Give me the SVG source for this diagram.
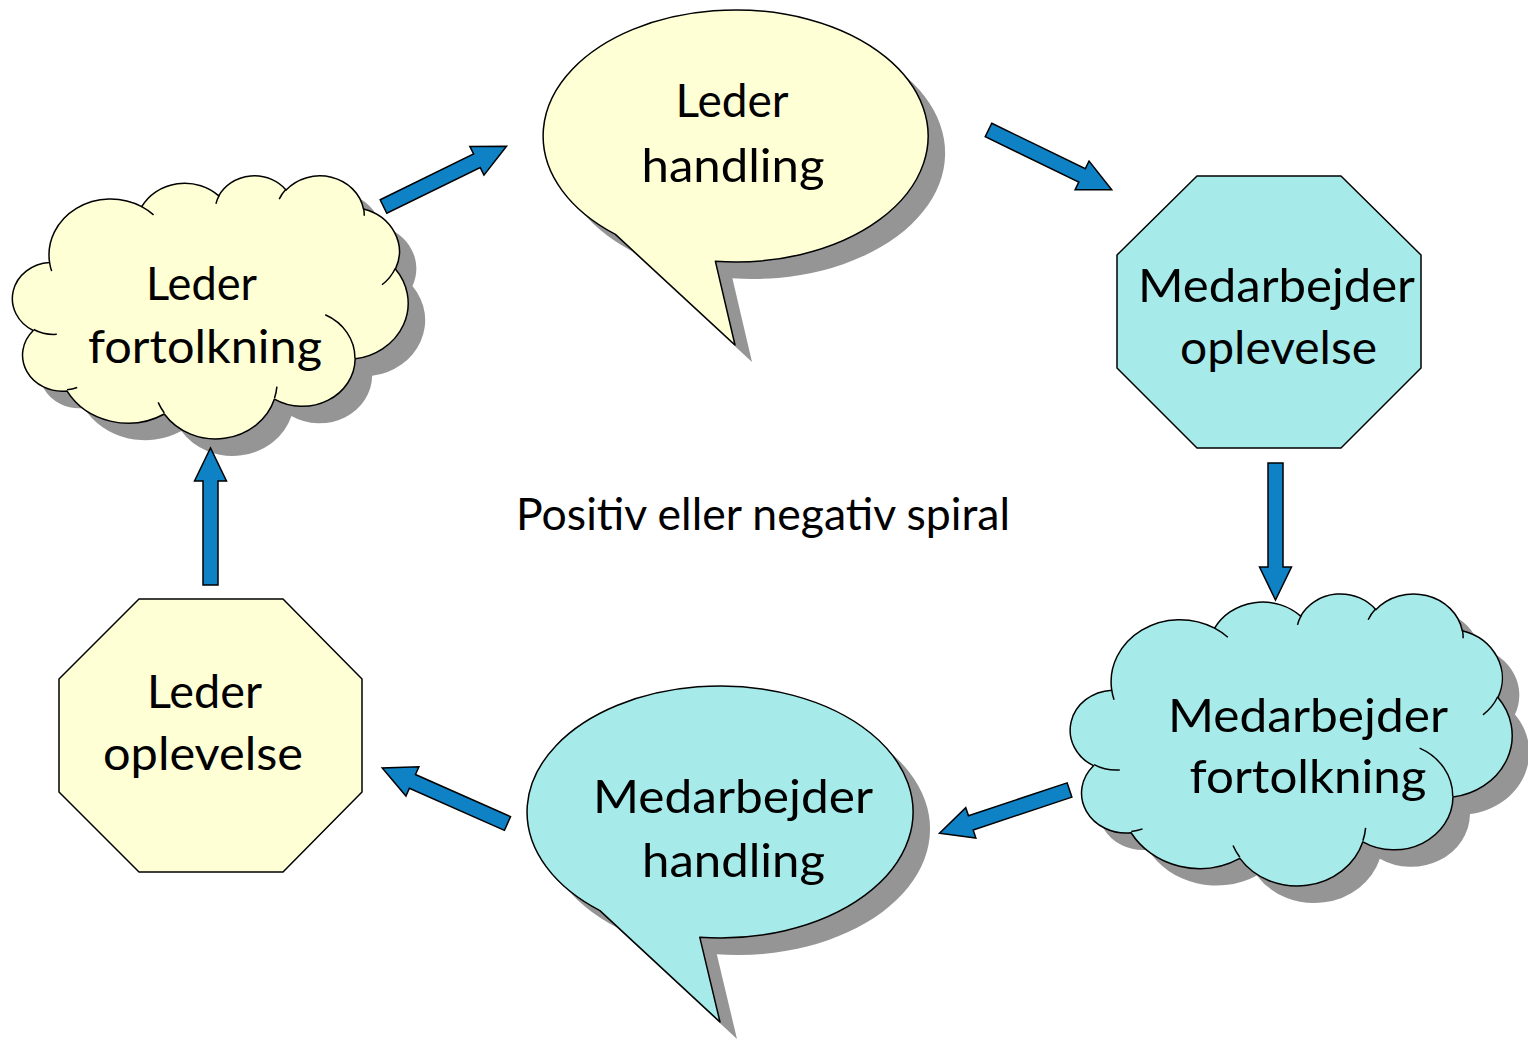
<svg xmlns="http://www.w3.org/2000/svg" xmlns:xlink="http://www.w3.org/1999/xlink" width="1528" height="1040" viewBox="0 0 1528 1040">
<style>
.ln { stroke:#000; stroke-width:1.5; stroke-linejoin:round; }
.y { fill:#FFFFD6; }
.c { fill:#A6EAE9; }
.sh { fill:#959595; stroke:none; }
.nf { fill:none; }
.t { font-family:Lato, "Open Sans", sans-serif; font-size:47px; fill:#000; text-anchor:middle; }
.arr { fill:#0F82C5; stroke:#000; stroke-width:1.5; stroke-linejoin:miter; }
</style>
<defs>
<path id="cloud" vector-effect="non-scaling-stroke" d="M3900,14370 A6753,9190 0 0 1 14005,5202 A5333,7267 0 0 1 22456,3430 A4365,5945 0 0 1 29833,2478 A4857,6595 0 0 1 38318,5573 A5333,7273 0 0 1 41819,15457 A6775,9220 0 0 1 37404,30198 A5785,7867 0 0 1 28556,36809 A6752,9215 0 0 1 16481,39262 A7720,10543 0 0 1 5805,35467 A4360,5918 0 0 1 2113,25545 A4345,5945 0 0 1 3900,14370 Z"/>
<path id="creases" vector-effect="non-scaling-stroke" fill="none" d="M4693,26177 A4345,5945 0 0 1 2160,25380 M6928,34899 A4360,5918 0 0 1 5820,35281 M16478,39090 A6752,9215 0 0 1 15809,37348 M28827,34751 A6752,9215 0 0 1 28560,36660 M34129,22954 A5785,7867 0 0 1 37381,30090 M41798,15354 A5333,7273 0 0 1 40350,18030 M38324,5426 A4857,6595 0 0 1 38401,6690 M29078,3952 A4857,6595 0 0 1 29820,2339 M22141,4720 A4365,5945 0 0 1 22500,3331 M14000,5192 A6753,9190 0 0 1 15300,6540 M4127,15789 A6753,9190 0 0 1 3900,14371"/>
<path id="arrow" d="M0,-7.5 H104 V-16 L137,0 L104,16 V7.5 H0 Z"/>
</defs>
<rect x="0" y="0" width="1528" height="1040" fill="#FFFFFF"/>

<g id="leder-handling">
<path class="sh" d="M632.4,251.4 L752,362 L732.4,278.3 A192.5,126 0 1 0 632.4,251.4 Z"/>
<path class="ln y" d="M615.4,234.4 L735,345 L715.4,261.3 A192.5,126 0 1 0 615.4,234.4 Z"/>
<text class="t" x="732" y="117" textLength="113" lengthAdjust="spacingAndGlyphs">Leder</text>
<text class="t" x="733" y="182" textLength="183" lengthAdjust="spacingAndGlyphs">handling</text>
</g>

<g id="medarbejder-oplevelse">
<path class="ln c" d="M1197,176 L1341,176 L1421,255 L1421,368 L1341,448 L1197,448 L1117,368 L1117,255 Z"/>
<text class="t" x="1276.5" y="302" textLength="277" lengthAdjust="spacingAndGlyphs">Medarbejder</text>
<text class="t" x="1278.5" y="364" textLength="197" lengthAdjust="spacingAndGlyphs">oplevelse</text>
</g>

<g id="medarbejder-fortolkning">
<use href="#cloud" class="sh" transform="translate(1089,610) scale(0.0101852,0.0067593)"/>
<use href="#cloud" class="ln c" transform="translate(1072,593) scale(0.0101852,0.0067593)"/>
<use href="#creases" class="ln nf" transform="translate(1072,593) scale(0.0101852,0.0067593)"/>
<text class="t" x="1308" y="732" textLength="280" lengthAdjust="spacingAndGlyphs">Medarbejder</text>
<text class="t" x="1308" y="793" textLength="237" lengthAdjust="spacingAndGlyphs">fortolkning</text>
</g>

<g id="medarbejder-handling">
<path class="sh" d="M616.9,927.6 L737,1039 L716.8,954.3 A193,126 0 1 0 616.9,927.6 Z"/>
<path class="ln c" d="M599.9,910.6 L720,1022 L699.8,937.3 A193,126 0 1 0 599.9,910.6 Z"/>
<text class="t" x="733" y="813" textLength="280" lengthAdjust="spacingAndGlyphs">Medarbejder</text>
<text class="t" x="733.5" y="877" textLength="183" lengthAdjust="spacingAndGlyphs">handling</text>
</g>

<g id="leder-oplevelse">
<path class="ln y" d="M139,599 L283,599 L362,679 L362,792 L283,872 L139,872 L59,792 L59,679 Z"/>
<text class="t" x="204.5" y="708" textLength="115" lengthAdjust="spacingAndGlyphs">Leder</text>
<text class="t" x="203" y="770" textLength="200" lengthAdjust="spacingAndGlyphs">oplevelse</text>
</g>

<g id="leder-fortolkning">
<use href="#cloud" class="sh" transform="translate(31,192) scale(0.0091204,0.0060880)"/>
<use href="#cloud" class="ln y" transform="translate(14,175) scale(0.0091204,0.0060880)"/>
<use href="#creases" class="ln nf" transform="translate(14,175) scale(0.0091204,0.0060880)"/>
<text class="t" x="201.5" y="300" textLength="111" lengthAdjust="spacingAndGlyphs">Leder</text>
<text class="t" x="205" y="363" textLength="234" lengthAdjust="spacingAndGlyphs">fortolkning</text>
</g>

<g id="connectors">
<use href="#arrow" class="arr" transform="translate(383.5,206.5) rotate(-26.1)"/>
<use href="#arrow" class="arr" transform="translate(988.5,130) rotate(25.9)"/>
<use href="#arrow" class="arr" transform="translate(1275.5,463) rotate(90)"/>
<use href="#arrow" class="arr" transform="translate(1069.5,790) rotate(161.6)"/>
<use href="#arrow" class="arr" transform="translate(507.5,823.5) rotate(203.9)"/>
<use href="#arrow" class="arr" transform="translate(210.5,585) rotate(-90)"/>
</g>

<g id="center-label">
<text class="t" x="763" y="530" style="font-size:44px" textLength="494" lengthAdjust="spacingAndGlyphs">Positiv eller negativ spiral</text>
</g>
</svg>
